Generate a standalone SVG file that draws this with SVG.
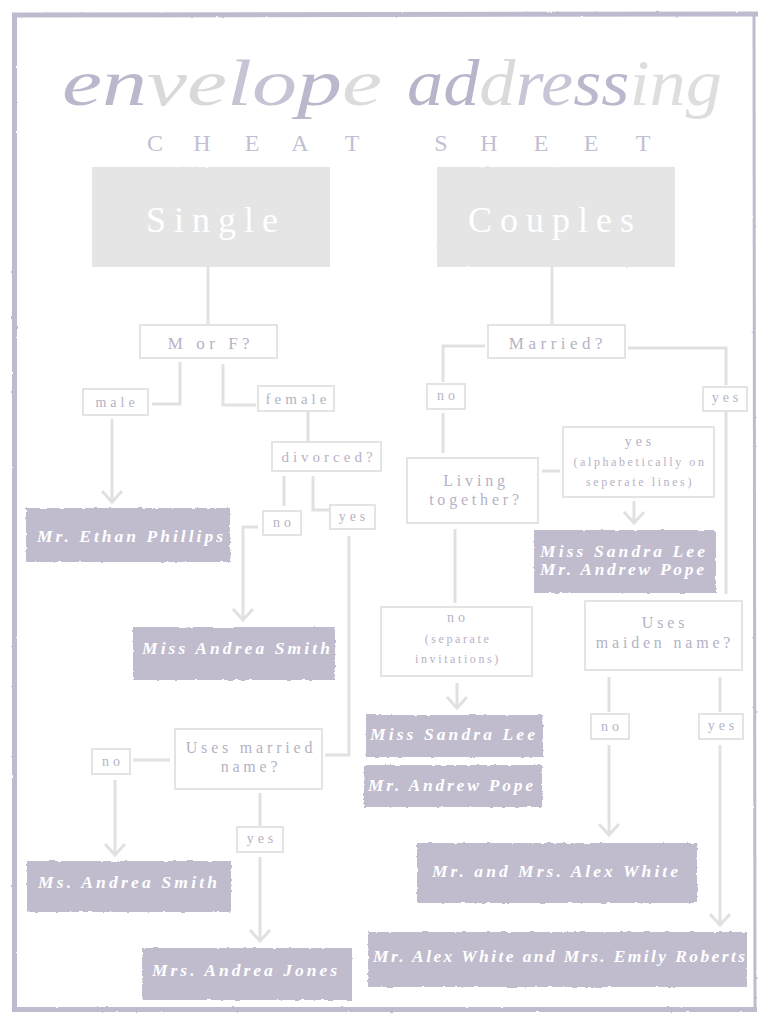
<svg xmlns="http://www.w3.org/2000/svg" width="770" height="1024" viewBox="0 0 770 1024">
<defs>
<style>
.conn{fill:none;stroke:#e1e1e1;stroke-width:3}
.lb{fill:#fff;stroke:#e4e4e4;stroke-width:2}
.lt{font-family:"Liberation Serif",serif;fill:#b6b2c6;text-anchor:middle}
.s14{font-size:14px;letter-spacing:4px}
.s15{font-size:15px;letter-spacing:4px}
.s16{font-size:16px;letter-spacing:3.8px}
.s17{font-size:17px;letter-spacing:4.5px}
.s12{font-size:12px;letter-spacing:2.6px}
.nb{fill:#c0bcce}
.nt{font-family:"Liberation Serif",serif;font-style:italic;font-weight:bold;fill:#fff;font-size:17.5px}
.hb{fill:#e5e5e5}
.ht{font-family:"Liberation Serif",serif;fill:#fff;font-size:36px;letter-spacing:8px;text-anchor:middle}
.title{font-family:"Liberation Serif",serif;font-style:italic;font-size:66px}
.cs{font-family:"Liberation Serif",serif;font-size:24px;fill:#c3bfd2;text-anchor:middle}
</style>
<filter id="rough" x="-3%" y="-8%" width="106%" height="116%">
<feTurbulence type="fractalNoise" baseFrequency="0.15 0.3" numOctaves="2" seed="4"/>
<feDisplacementMap in="SourceGraphic" scale="3" xChannelSelector="R" yChannelSelector="G"/>
</filter>
<filter id="rough2" x="-3%" y="-8%" width="106%" height="116%">
<feTurbulence type="fractalNoise" baseFrequency="0.2" numOctaves="1" seed="7"/>
<feDisplacementMap in="SourceGraphic" scale="2" xChannelSelector="R" yChannelSelector="G"/>
</filter>
<marker id="arr" markerUnits="userSpaceOnUse" markerWidth="30" markerHeight="30" viewBox="-15 -15 30 30" refX="0" refY="0" orient="auto">
<path d="M-11,-10 L0,0 L-11,10" fill="none" stroke="#e1e1e1" stroke-width="3"/>
</marker>
</defs>
<rect width="770" height="1024" fill="#fff"/>

<g id="frame" filter="url(#rough2)" fill="none" stroke="#bfbbcf">
<path d="M12,15 L758,14" stroke-width="5"/>
<path d="M14.5,13 L14.5,1011" stroke-width="5"/>
<path d="M754,13 L755,1011" stroke-width="3"/>
<path d="M12,1009.5 L757,1009.5" stroke-width="5"/>
</g>

<g id="title">
<text class="title" x="62" y="105" textLength="320" lengthAdjust="spacingAndGlyphs"><tspan fill="#bcb7cc">en</tspan><tspan fill="#d9d9d9">ve</tspan><tspan fill="#c7c3d5">lo</tspan><tspan fill="#bcb7cc">p</tspan><tspan fill="#dcdcdc">e</tspan></text>
<text class="title" x="407" y="105" textLength="315" lengthAdjust="spacingAndGlyphs"><tspan fill="#b9b4ca">ad</tspan><tspan fill="#dadada">d</tspan><tspan fill="#c9c5d6">re</tspan><tspan fill="#bcb7cc">ss</tspan><tspan fill="#dedede">ing</tspan></text>
<text class="cs" y="151"><tspan x="155">C</tspan><tspan x="202">H</tspan><tspan x="252">E</tspan><tspan x="300">A</tspan><tspan x="352">T</tspan><tspan x="441">S</tspan><tspan x="489">H</tspan><tspan x="541">E</tspan><tspan x="591">E</tspan><tspan x="643">T</tspan></text>
</g>

<g id="connectors">
<path class="conn" d="M208,267 V325"/>
<path class="conn" d="M180,362 V404 H152"/>
<path class="conn" d="M223,364 V405 H256"/>
<path class="conn" d="M112,419 V502" marker-end="url(#arr)"/>
<path class="conn" d="M308,412 V441"/>
<path class="conn" d="M284,476 V506"/>
<path class="conn" d="M313,476 V510 H329"/>
<path class="conn" d="M258,527 H243 V620" marker-end="url(#arr)"/>
<path class="conn" d="M349,536 V755 H325"/>
<path class="conn" d="M170,760 H133"/>
<path class="conn" d="M115,780 V855" marker-end="url(#arr)"/>
<path class="conn" d="M260,793 V826"/>
<path class="conn" d="M260,857 V941" marker-end="url(#arr)"/>
<path class="conn" d="M552,267 V325"/>
<path class="conn" d="M485,346 H443 V382"/>
<path class="conn" d="M628,348 H726 V385"/>
<path class="conn" d="M443,413 V453"/>
<path class="conn" d="M542,471 H560"/>
<path class="conn" d="M634,501 V523" marker-end="url(#arr)"/>
<path class="conn" d="M455,529 V603"/>
<path class="conn" d="M457,683 V708" marker-end="url(#arr)"/>
<path class="conn" d="M726,412 V594"/>
<path class="conn" d="M609,677 V712"/>
<path class="conn" d="M720,677 V712"/>
<path class="conn" d="M609,745 V835" marker-end="url(#arr)"/>
<path class="conn" d="M720,745 V925" marker-end="url(#arr)"/>
</g>

<g id="single"><rect class="hb" x="92" y="167" width="238" height="100" filter="url(#rough2)"/><text class="ht" x="216" y="232">Single</text></g>
<g id="couples"><rect class="hb" x="437" y="167" width="238" height="100" filter="url(#rough2)"/><text class="ht" x="555" y="232">Couples</text></g>

<g id="morf"><rect class="lb" x="140" y="325" width="137" height="33"/><text class="lt s17" x="211" y="349">M or F?</text></g>
<g id="male"><rect class="lb" x="83" y="389" width="65" height="26"/><text class="lt s14" x="117" y="407">male</text></g>
<g id="female"><rect class="lb" x="258" y="386" width="76" height="25"/><text class="lt s15" x="298" y="404">female</text></g>
<g id="divorced"><rect class="lb" x="272" y="442" width="109" height="29"/><text class="lt s15" x="329" y="462">divorced?</text></g>
<g id="div-no"><rect class="lb" x="263" y="511" width="38" height="24"/><text class="lt s14" x="284" y="527">no</text></g>
<g id="div-yes"><rect class="lb" x="330" y="505" width="45" height="24"/><text class="lt s14" x="354" y="521">yes</text></g>
<g id="usesmarried"><rect class="lb" x="175" y="729" width="147" height="60"/><text class="lt s16" x="251" y="753">Uses married</text><text class="lt s16" x="251" y="772">name?</text></g>
<g id="um-no"><rect class="lb" x="92" y="749" width="38" height="25"/><text class="lt s14" x="113" y="766">no</text></g>
<g id="um-yes"><rect class="lb" x="237" y="827" width="46" height="25"/><text class="lt s14" x="262" y="843">yes</text></g>

<g id="married"><rect class="lb" x="488" y="325" width="137" height="33"/><text class="lt s17" x="558" y="349">Married?</text></g>
<g id="mar-no"><rect class="lb" x="427" y="384" width="38" height="25"/><text class="lt s14" x="448" y="400">no</text></g>
<g id="mar-yes"><rect class="lb" x="703" y="387" width="44" height="24"/><text class="lt s14" x="727" y="402">yes</text></g>
<g id="living"><rect class="lb" x="407" y="458" width="131" height="65"/><text class="lt s16" x="476" y="486">Living</text><text class="lt s16" x="476" y="505">together?</text></g>
<g id="live-yes"><rect class="lb" x="563" y="427" width="151" height="70"/><text class="lt s14" x="640" y="446">yes</text><text class="lt s12" x="640" y="466">(alphabetically on</text><text class="lt s12" x="640" y="486">seperate lines)</text></g>
<g id="live-no"><rect class="lb" x="381" y="607" width="151" height="69"/><text class="lt s14" x="458" y="622">no</text><text class="lt s12" x="458" y="643">(separate</text><text class="lt s12" x="458" y="663">invitations)</text></g>
<g id="maiden"><rect class="lb" x="585" y="601" width="157" height="69"/><text class="lt s16" x="665" y="628">Uses</text><text class="lt s16" x="665" y="648">maiden name?</text></g>
<g id="mai-no"><rect class="lb" x="591" y="714" width="38" height="25"/><text class="lt s14" x="612" y="731">no</text></g>
<g id="mai-yes"><rect class="lb" x="699" y="714" width="44" height="25"/><text class="lt s14" x="723" y="730">yes</text></g>

<g id="n-ethan"><rect class="nb" x="26" y="508" width="204" height="54" filter="url(#rough)"/><text class="nt" x="37" y="542" textLength="186" lengthAdjust="spacing">Mr. Ethan Phillips</text></g>
<g id="n-miss-andrea"><rect class="nb" x="133" y="627" width="202" height="53" filter="url(#rough)"/><text class="nt" x="142" y="654" textLength="188" lengthAdjust="spacing">Miss Andrea Smith</text></g>
<g id="n-ms-andrea"><rect class="nb" x="27" y="861" width="204" height="51" filter="url(#rough)"/><text class="nt" x="38" y="888" textLength="179" lengthAdjust="spacing">Ms. Andrea Smith</text></g>
<g id="n-mrs-andrea"><rect class="nb" x="142" y="948" width="210" height="52" filter="url(#rough)"/><text class="nt" x="152" y="976" textLength="185" lengthAdjust="spacing">Mrs. Andrea Jones</text></g>
<g id="n-lee-pope"><rect class="nb" x="534" y="530" width="182" height="63" filter="url(#rough)"/><text class="nt" x="540" y="557" textLength="165" lengthAdjust="spacing">Miss Sandra Lee</text><text class="nt" x="540" y="575" textLength="164" lengthAdjust="spacing">Mr. Andrew Pope</text></g>
<g id="n-lee"><rect class="nb" x="366" y="715" width="177" height="42" filter="url(#rough)"/><text class="nt" x="370" y="740" textLength="165" lengthAdjust="spacing">Miss Sandra Lee</text></g>
<g id="n-pope"><rect class="nb" x="364" y="765" width="178" height="42" filter="url(#rough)"/><text class="nt" x="368" y="791" textLength="165" lengthAdjust="spacing">Mr. Andrew Pope</text></g>
<g id="n-white"><rect class="nb" x="417" y="843" width="280" height="60" filter="url(#rough)"/><text class="nt" x="432" y="877" textLength="246" lengthAdjust="spacing">Mr. and Mrs. Alex White</text></g>
<g id="n-white-roberts"><rect class="nb" x="368" y="932" width="379" height="55" filter="url(#rough)"/><text class="nt" x="373" y="962" textLength="372" lengthAdjust="spacing">Mr. Alex White and Mrs. Emily Roberts</text></g>
</svg>
